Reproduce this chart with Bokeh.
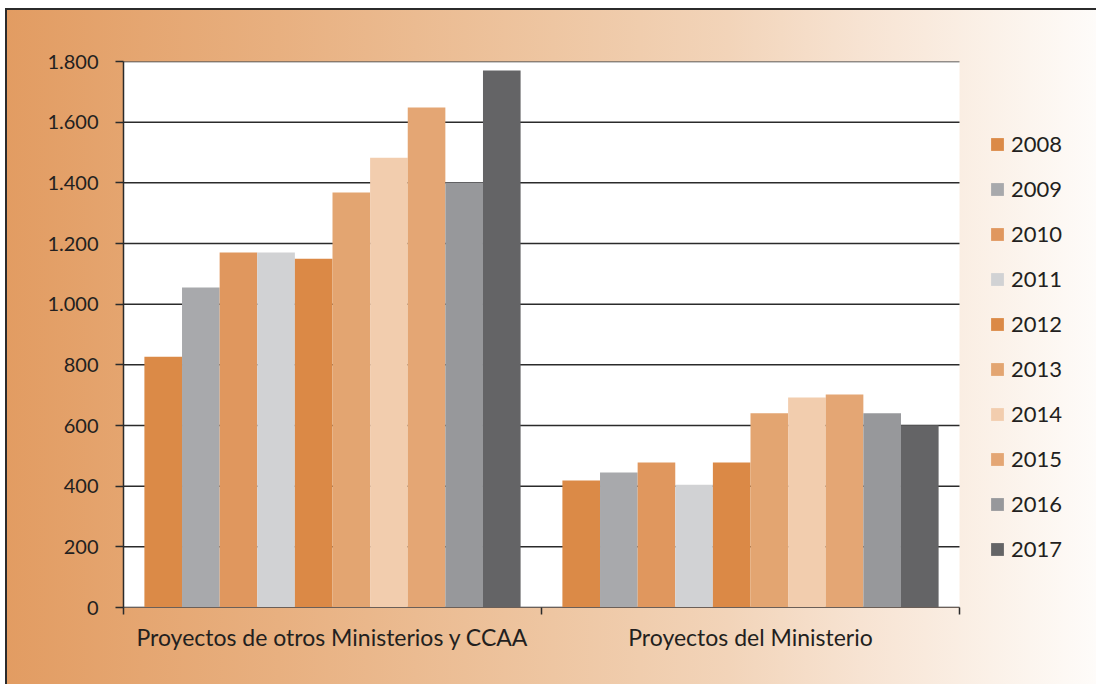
from bokeh.plotting import figure
from bokeh.models import (ColumnDataSource, Range1d, LinearAxis, BoxAnnotation,
                          FixedTicker, Legend, LegendItem, Grid)
from bokeh.transform import dodge
from bokeh.embed import file_html
from bokeh.resources import INLINE

categories = ["Proyectos de otros Ministerios y CCAA", "Proyectos del Ministerio"]
years = ["2008", "2009", "2010", "2011", "2012", "2013", "2014", "2015", "2016", "2017"]
values_otros = [827, 1055, 1170, 1170, 1150, 1368, 1483, 1648, 1401, 1770]
values_ministerio = [419, 445, 478, 405, 478, 640, 692, 702, 640, 601]
colors = ["#DB8A47", "#A8A9AC", "#E0975E", "#D1D2D4", "#DB8946",
          "#E3A571", "#F2CDAE", "#E4A674", "#97989B", "#646466"]
y_ticks = [0, 200, 400, 600, 800, 1000, 1200, 1400, 1600, 1800]
y_tick_labels = ["0", "200", "400", "600", "800", "1.000", "1.200", "1.400", "1.600", "1.800"]

ncat = len(categories)
centers = [k + 0.5 for k in range(ncat)]
data = {"xc": centers, "cat": categories}
for i, y in enumerate(years):
    data[y] = [values_otros[i], values_ministerio[i]]
source = ColumnDataSource(data)

FONT = "Lato"
TXT = "#231f20"
LINE = "#2b2b2b"

W, H = 1096, 684
LEFT, TOP, BOTTOM = 123, 61, 77
PLOT_W = 836  # pixel width of the white plotting area
# frame extends to the right edge so the legend can live inside it
x_end = ncat * (W - LEFT) / PLOT_W

p = figure(width=W, height=H, x_range=Range1d(0, x_end),
           y_range=Range1d(0, 1800), output_backend="svg", toolbar_location=None,
           x_axis_location=None, y_axis_location=None,
           min_border_left=LEFT, min_border_right=0, min_border_top=TOP, min_border_bottom=BOTTOM)
p.background_fill_color = None
p.border_fill_color = None
p.outline_line_color = None
for r in list(p.center):
    if isinstance(r, Grid):
        p.center.remove(r)

bg = ("linear-gradient(#2b2b2b, #2b2b2b) 5px 8px / 2px 100% no-repeat, "
      "linear-gradient(#2b2b2b, #2b2b2b) 5px 8px / 100% 2px no-repeat, "
      "linear-gradient(to right, #E29C62 0%, #E8B080 25%, #EEC6A2 50%, #F2D4B9 66%, "
      "#F7E3D2 78%, #FBF1E8 90%, #FEFCFA 100%) 5px 8px / 100% 100% no-repeat, white")
p.styles = {"background": bg}

# white plotting area
p.add_layout(BoxAnnotation(left=0, right=ncat, fill_color="white", fill_alpha=1,
                           line_color=None, level="underlay"))

# horizontal grid lines across the plotting area
p.segment(x0=0, x1=ncat, y0=y_ticks, y1=y_ticks, line_color=LINE, line_width=1.5)

n = len(years)
bw = 0.9 / n
renderers = []
for i, y in enumerate(years):
    off = -0.45 + bw / 2 + bw * i
    r = p.vbar(x=dodge("xc", off), top=y, width=bw, source=source,
               fill_color=colors[i], line_color=None)
    renderers.append(r)

# y axis
yax = LinearAxis(ticker=FixedTicker(ticks=y_ticks),
                 major_label_overrides={t: l for t, l in zip(y_ticks, y_tick_labels)})
yax.axis_line_color = LINE
yax.axis_line_width = 1.5
yax.major_tick_line_color = LINE
yax.major_tick_line_width = 1.5
yax.major_tick_out = 8
yax.major_tick_in = 0
yax.minor_tick_line_color = None
yax.major_label_text_font = FONT
yax.major_label_text_font_size = "20px"
yax.major_label_text_color = TXT
yax.major_label_standoff = 17
p.add_layout(yax, "left")

# x axis: labels at category centres, minor ticks at category boundaries
xax = LinearAxis(ticker=FixedTicker(ticks=centers, minor_ticks=list(range(ncat + 1))),
                 major_label_overrides={c: lab for c, lab in zip(centers, categories)},
                 bounds=(0, ncat))
xax.axis_line_color = "#6b5f58"
xax.axis_line_width = 1.2
xax.major_tick_line_color = None
xax.major_tick_out = 7
xax.major_tick_in = 0
xax.minor_tick_line_color = LINE
xax.minor_tick_line_width = 1.5
xax.minor_tick_out = 7
xax.minor_tick_in = 0
xax.major_label_text_font = FONT
xax.major_label_text_font_size = "23px"
xax.major_label_text_color = TXT
xax.major_label_standoff = 8
p.add_layout(xax, "below")

legend = Legend(items=[LegendItem(label=y, renderers=[r]) for y, r in zip(years, renderers)],
                location=(866, 45))
legend.background_fill_alpha = 0
legend.border_line_color = None
legend.padding = 0
legend.margin = 0
legend.glyph_width = 16
legend.glyph_height = 16
legend.label_height = 22
legend.label_standoff = 6
legend.spacing = 18
legend.label_text_font = FONT
legend.label_text_font_size = "22px"
legend.label_text_color = TXT
p.add_layout(legend, "center")

open("out.html", "w").write(file_html(p, INLINE))
